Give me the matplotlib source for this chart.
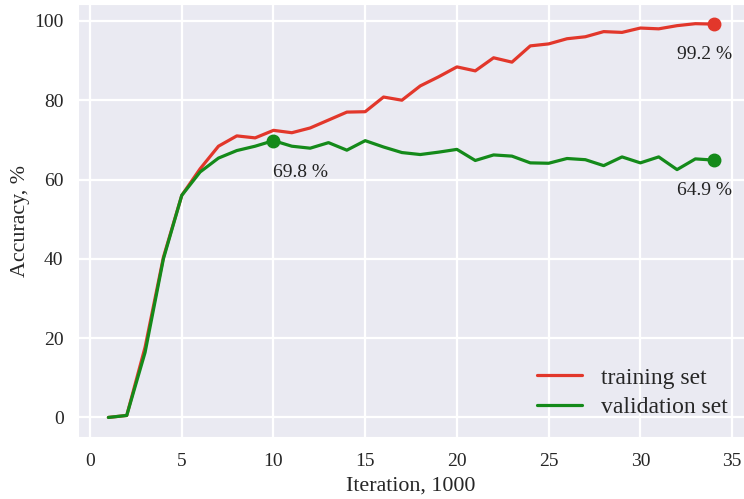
import matplotlib
matplotlib.use('Agg')
import matplotlib.pyplot as plt
import seaborn as sns

iterations = list(range(1, 35))
train_acc = [0.0, 0.5, 17.7, 40.4, 56.0, 62.7, 68.4, 71.0, 70.5, 72.4,
             71.8, 73.0, 75.0, 77.0, 77.1, 80.8, 80.0, 83.6, 85.9, 88.4,
             87.4, 90.7, 89.6, 93.7, 94.2, 95.5, 96.0, 97.3, 97.1, 98.2,
             98.0, 98.8, 99.3, 99.2]
val_acc = [0.0, 0.5, 16.4, 40.0, 56.0, 61.9, 65.4, 67.3, 68.4, 69.8,
           68.4, 67.9, 69.3, 67.4, 69.8, 68.2, 66.8, 66.3, 66.9, 67.6,
           64.8, 66.2, 65.9, 64.2, 64.1, 65.3, 65.0, 63.5, 65.7, 64.2,
           65.7, 62.5, 65.2, 64.9]

sns.set_style('darkgrid', {'grid.linewidth': 1.6})
plt.rcParams['font.family'] = ['Liberation Serif', 'DejaVu Serif']

red = '#e2372b'
green = '#148a1a'

fig = plt.figure(figsize=(7.44, 4.99), dpi=100)
ax = fig.add_axes([0.105, 0.124, 0.895, 0.868])

ax.plot(iterations, train_acc, color=red, lw=2.3, label='training set')
ax.plot(iterations, val_acc, color=green, lw=2.3, label='validation set')

# best validation point and final points
best = val_acc.index(max(val_acc))
ax.plot(iterations[best], val_acc[best], 'o', color=green, ms=9)
ax.plot(iterations[-1], train_acc[-1], 'o', color=red, ms=9)
ax.plot(iterations[-1], val_acc[-1], 'o', color=green, ms=9)

ax.text(iterations[best], val_acc[best] - 8, '%.1f %%' % val_acc[best],
        fontsize=14, ha='left', va='center', color='#222222')
ax.text(iterations[-1] - 2, train_acc[-1] - 7.7, '%.1f %%' % train_acc[-1],
        fontsize=14, ha='left', va='center', color='#222222')
ax.text(iterations[-1] - 2, val_acc[-1] - 7.7, '%.1f %%' % val_acc[-1],
        fontsize=14, ha='left', va='center', color='#222222')

ax.set_xlabel('Iteration, 1000', fontsize=15.8, labelpad=5)
ax.set_ylabel('Accuracy, %', fontsize=15.8, labelpad=3)
ax.tick_params(labelsize=14)
ax.tick_params(axis='x', pad=8)
ax.tick_params(axis='y', pad=7)
ax.grid(lw=1.6)
ax.set_xticks([0, 5, 10, 15, 20, 25, 30, 35])
ax.set_yticks([0, 20, 40, 60, 80, 100])
ax.legend(loc='lower right', fontsize=17, frameon=False,
          handlelength=1.9, borderaxespad=0.3, labelspacing=0.35,
          bbox_to_anchor=(1.0, 0.005))

fig.savefig('out.png', dpi=100)
